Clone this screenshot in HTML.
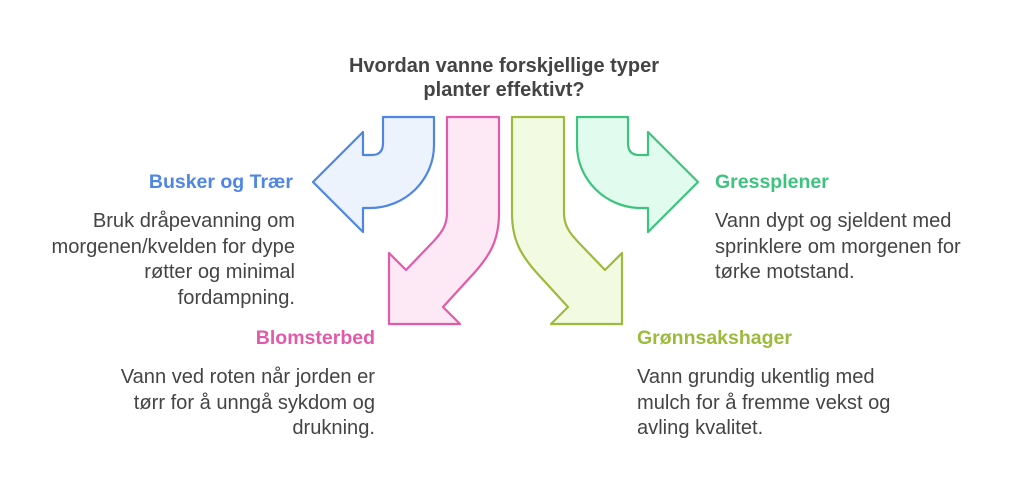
<!DOCTYPE html>
<html><head><meta charset="utf-8"><style>
body{margin:0;width:1024px;height:494px;background:#fff;position:relative;overflow:hidden;font-family:"Liberation Sans",Arial,sans-serif;}
.t{position:absolute;font-size:20.1px;line-height:25.5px;color:#444;white-space:nowrap}
.h{font-weight:bold;font-size:19.5px}
.r{text-align:right}
</style></head><body>
<svg width="1024" height="494" style="position:absolute;left:0;top:0">
<g stroke-width="2.2" stroke-linejoin="round">
<path d="M383,117 L434,117 L434,145 C434,180 405,208 370,208 L363,208 L363,232 L313,182 L363,132 L363,155 L372,155 Q383,155 383,143 Z" fill="#edf3fd" stroke="#4f86e6"/>
<path d="M447,117 L499,117 L499,213 C499,240 490,255 475,272 L443,307 L460,324 L389,324 L389,253 L406,270 L430,245 C442,233 447,225 447,213 Z" fill="#fde9f5" stroke="#e25aa9"/>
<path d="M512,117 L564,117 L564,213 C564,225 569,233 581,245 L605,270 L622,253 L622,324 L551,324 L568,307 L536,272 C521,255 512,240 512,213 Z" fill="#f3fae2" stroke="#9cba3c"/>
<path d="M628,117 L577,117 L577,145 C577,180 606,208 641,208 L648,208 L648,232 L698,182 L648,132 L648,155 L639,155 Q628,155 628,143 Z" fill="#e1fbef" stroke="#3cc47e"/>
</g></svg>
<div class="t h" style="left:0;width:1008px;text-align:center;top:55px;line-height:23.5px;font-size:20px;color:#444">Hvordan vanne forskjellige typer<br>planter effektivt?</div>
<div class="t h r" style="right:731px;top:170px;color:#4f86e6">Busker og Trær</div>
<div class="t r" style="right:729px;top:209px">Bruk dråpevanning om<br>morgenen/kvelden for dype<br>røtter og minimal<br>fordampning.</div>
<div class="t h" style="left:715px;top:170px;color:#3cc47e">Gressplener</div>
<div class="t" style="left:715px;top:209px">Vann dypt og sjeldent med<br>sprinklere om morgenen for<br>tørke motstand.</div>
<div class="t h r" style="right:649px;top:326px;color:#e25aa9">Blomsterbed</div>
<div class="t r" style="right:649px;top:365px">Vann ved roten når jorden er<br>tørr for å unngå sykdom og<br>drukning.</div>
<div class="t h" style="left:637px;top:326px;color:#9cba3c">Grønnsakshager</div>
<div class="t" style="left:637px;top:365px">Vann grundig ukentlig med<br>mulch for å fremme vekst og<br>avling kvalitet.</div>
</body></html>
